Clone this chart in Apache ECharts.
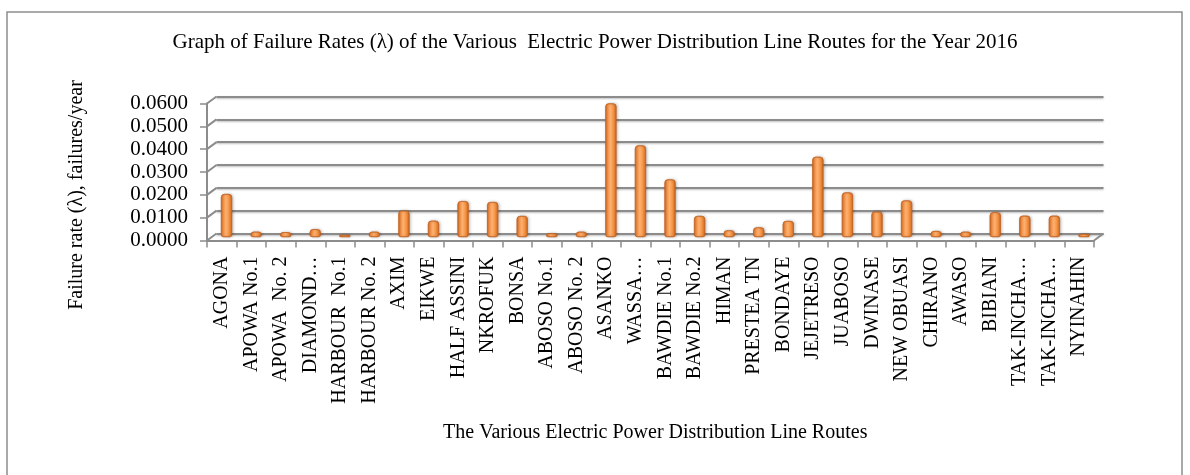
<!DOCTYPE html>
<html>
<head>
<meta charset="utf-8">
<script src="https://cdn.jsdelivr.net/npm/echarts@6/dist/echarts.min.js"></script>
<style>
  html, body { margin: 0; padding: 0; background: #ffffff; }
  #chart { width: 1190px; height: 475px; }
</style>
</head>
<body>
<div id="chart"></div>
<script>
// Line routes (as labelled on the category axis)
const routes = [
  'AGONA', 'APOWA No.1', 'APOWA  No. 2', 'DIAMOND…', 'HARBOUR  No.1', 'HARBOUR No. 2',
  'AXIM', 'EIKWE', 'HALF ASSINI', 'NKROFUK', 'BONSA', 'ABOSO No.1', 'ABOSO No. 2',
  'ASANKO', 'WASSA…', 'BAWDIE No.1', 'BAWDIE No.2', 'HIMAN', 'PRESTEA TN', 'BONDAYE',
  'JEJETRESO', 'JUABOSO', 'DWINASE', 'NEW OBUASI', 'CHIRANO', 'AWASO', 'BIBIANI',
  'TAK-INCHA…', 'TAK-INCHA…', 'NYINAHIN'
];

// Failure rate λ (failures/year), 2016
const failureRates = [
  0.0188, 0.0023, 0.0021, 0.0034, 0.0009, 0.0023,
  0.0115, 0.0071, 0.0157, 0.0153, 0.0092, 0.0016, 0.0023,
  0.0585, 0.0401, 0.0252, 0.0092, 0.0029, 0.0042, 0.0070,
  0.0351, 0.0195, 0.0111, 0.0160, 0.0026, 0.0023, 0.0108,
  0.0093, 0.0093, 0.0013
];

// Value axis range and tick step
const rateMin = 0;
const rateMax = 0.06;
const rateStep = 0.01;

const chartTitle = 'Graph of Failure Rates (\u03bb) of the Various  Electric Power Distribution Line Routes for the Year 2016';
const yTitle = 'Failure rate (\u03bb), failures/year';
const xTitle = 'The Various Electric Power Distribution Line Routes';

const FONT = "'Liberation Serif', 'Times New Roman', serif";
const WALL = '#8c8c8c';

// Pseudo-3D box: front face (axes), back wall (gridlines), bars halfway between
const front = { left: 207, top: 103.5, width: 887, height: 137 };
const depth = { dx: 9.5, dy: -7 };
const mid = { left: front.left + depth.dx / 2, top: front.top + depth.dy / 2, width: front.width, height: front.height };
const back = { left: front.left + depth.dx, top: front.top + depth.dy, width: front.width, height: front.height };

function gridOf(r) {
  return { left: r.left, top: r.top, width: r.width, height: r.height, containLabel: false, outerBoundsMode: 'none' };
}

function valueAxis(gridIndex, extra) {
  return Object.assign({
    type: 'value', gridIndex: gridIndex, min: rateMin, max: rateMax, interval: rateStep,
    axisLine: { show: false }, axisTick: { show: false }, axisLabel: { show: false }, splitLine: { show: false }
  }, extra || {});
}

function categoryAxis(gridIndex, extra) {
  return Object.assign({
    type: 'category', gridIndex: gridIndex, data: routes, boundaryGap: true,
    axisLine: { show: false }, axisTick: { show: false }, axisLabel: { show: false }, splitLine: { show: false }
  }, extra || {});
}

const barFill = new echarts.graphic.LinearGradient(0, 0, 1, 0, [
  { offset: 0, color: '#d86f26' },
  { offset: 0.25, color: '#f99a50' },
  { offset: 0.45, color: '#fdb172' },
  { offset: 0.7, color: '#f79646' },
  { offset: 1, color: '#cf6a22' }
]);

const chart = echarts.init(document.getElementById('chart'), null, { renderer: 'canvas' });

chart.setOption({
  backgroundColor: '#ffffff',
  animation: false,
  title: {
    text: chartTitle,
    left: 'center',
    top: 32,
    itemGap: 0,
    padding: 0,
    textStyle: { fontFamily: FONT, fontSize: 21, fontWeight: 'normal', color: '#000000' }
  },
  grid: [gridOf(front), gridOf(back), gridOf(mid)],
  xAxis: [
    categoryAxis(0, {
      axisLine: { show: true, lineStyle: { color: WALL, width: 2 } },
      axisTick: { show: true, length: 7, lineStyle: { color: WALL, width: 1.5 } },
      axisLabel: {
        show: true, interval: 0, rotate: 90, margin: 16,
        fontFamily: FONT, fontSize: 20, color: '#000000'
      }
    }),
    categoryAxis(1),
    categoryAxis(2)
  ],
  yAxis: [
    valueAxis(0, {
      axisLine: { show: true, lineStyle: { color: WALL, width: 2 } },
      axisTick: { show: true, length: 7, inside: false, lineStyle: { color: WALL, width: 1.5 } },
      axisLabel: {
        show: true, margin: 19, fontFamily: FONT, fontSize: 21, color: '#000000',
        formatter: function (v) { return v.toFixed(4); }
      }
    }),
    valueAxis(1, {
      splitLine: {
        show: true,
        lineStyle: { color: WALL, width: 2, shadowBlur: 2, shadowColor: 'rgba(0,0,0,0.25)', shadowOffsetY: 1 }
      }
    }),
    valueAxis(2)
  ],
  series: [{
    type: 'bar',
    xAxisIndex: 2,
    yAxisIndex: 2,
    data: failureRates,
    barWidth: 11,
    itemStyle: {
      color: barFill,
      borderColor: '#c4621f',
      borderWidth: 0.6,
      borderRadius: [3, 3, 2, 2],
      shadowBlur: 3,
      shadowColor: 'rgba(0,0,0,0.25)',
      shadowOffsetX: 1
    }
  }]
});

// Side-wall and floor edges joining the front face to the back wall
const edges = [];
const wallStyle = { stroke: WALL, lineWidth: 2 };
for (let v = rateMin; v <= rateMax + 1e-9; v += rateStep) {
  const y = chart.convertToPixel({ yAxisIndex: 0 }, v);
  edges.push({
    type: 'line', silent: true, z: 1,
    shape: { x1: front.left, y1: y, x2: front.left + depth.dx, y2: y + depth.dy },
    style: wallStyle
  });
}
const floorY = chart.convertToPixel({ yAxisIndex: 0 }, rateMin);
edges.push({
  type: 'line', silent: true, z: 1,
  shape: { x1: front.left + front.width, y1: floorY, x2: front.left + front.width + depth.dx, y2: floorY + depth.dy },
  style: wallStyle
});

chart.setOption({
  graphic: [
    {
      type: 'rect', silent: true, z: 0,
      shape: { x: 7, y: 12, width: 1175, height: 480 },
      style: { fill: 'none', stroke: '#8d8d8d', lineWidth: 1.5 }
    },
    {
      type: 'text', silent: true,
      x: 77, y: 195, rotation: Math.PI / 2,
      style: { text: yTitle, font: '20px ' + FONT, fill: '#000000', align: 'center', verticalAlign: 'middle' }
    },
    {
      type: 'text', silent: true,
      x: front.left + (front.width + depth.dx) / 2, y: 433,
      style: { text: xTitle, font: '20px ' + FONT, fill: '#000000', align: 'center', verticalAlign: 'middle' }
    }
  ].concat(edges)
});
</script>
</body>
</html>
